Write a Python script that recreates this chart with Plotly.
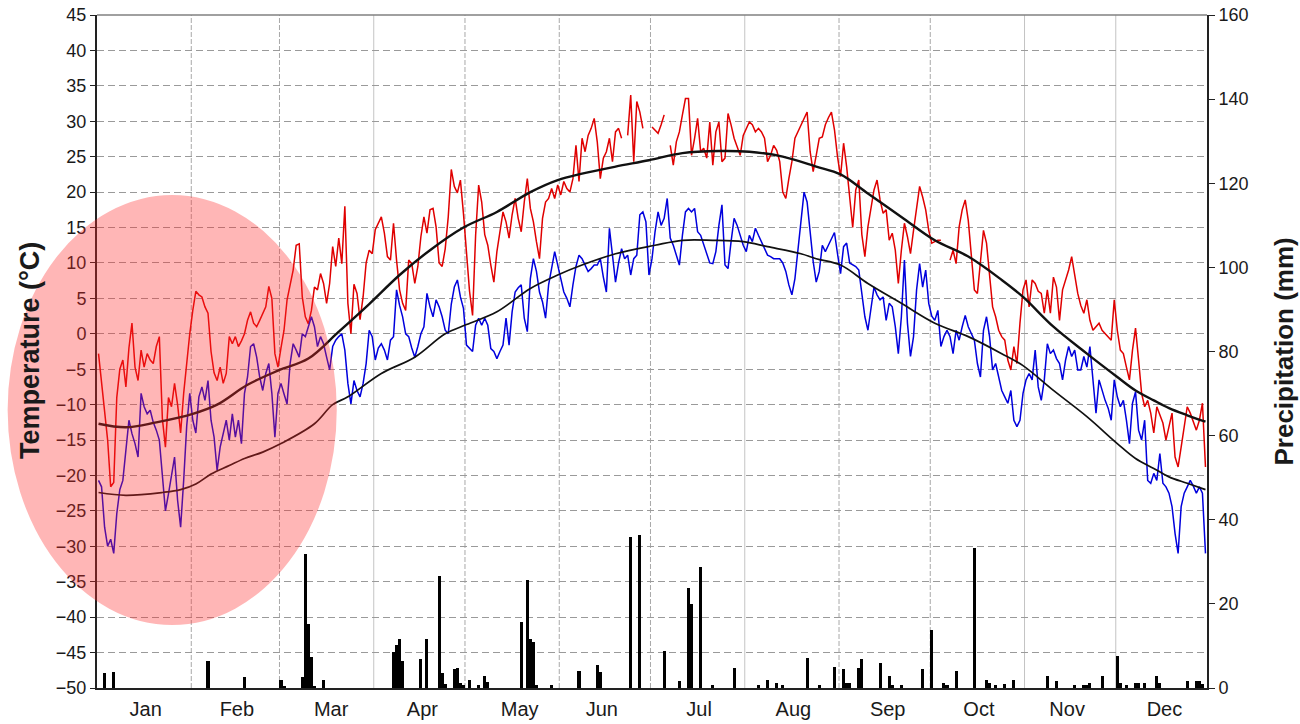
import pandas as pd
import plotly.graph_objects as go

# ---- daily observations (day 1 = 1 Jan) ----
months = ["Jan", "Feb", "Mar", "Apr", "May", "Jun",
          "Jul", "Aug", "Sep", "Oct", "Nov", "Dec"]

# daily maximum temperature, degC (None = missing)
tmax = (
    [-2.8, -6.6, -11, -15, -21.6, -21, -9, -5, -3.7, -7.5, -2, 1.5, -4.7, -6.6, -2.3, -4.7,
     -2.8, -3.7, -4.2, -1.8, -0.4, -12, -16, -9, -10.3, -7, -10, -14, -8.4, -3.7, 0]
    + [3.3, 6, 5.5, 5.2, 3.8, 2.9, -2.5, -5.5, -6.6, -4.7, -7, -5.6, -0.4, -1.4, -0.4, -1.8,
       -1, 0, 1.9, 3.1, 1.5, 1, 1.9, 2.9, 3.8, 6.7, 5, -2.8]
    + [-4.7, -2, 0.5, 4.8, 7, 9, 12.5, 12.7, 5.2, 2.4, 1.4, 3.3, 6.6, 6.2, 8.5, 7.1, 4.3,
       7.1, 12.3, 9.5, 13.5, 9.9, 18, 4.3, 0, 7, 5.7, 2, 5.2, 10, 11.8]
    + [11.3, 14.7, 15.5, 16.5, 14.2, 10.9, 10.4, 15.6, 10.4, 6.2, 4.3, 3.3, 10.4, 9.9, 7.1,
       9.5, 13.7, 16.5, 14.2, 17.5, 17.7, 15.1, 10, 9.5, 12, 16.5, 23.2, 20.8, 19.9, 21.7]
    + [17, 12, 6, 2.6, 13.9, 21, 18.6, 14, 12.5, 9.7, 7.3, 11.6, 14.4, 17.2, 15.8, 13.5,
       16.8, 19.1, 16.3, 14.4, 18.6, 21.9, 17.7, 15.8, 13, 10.6, 16.3, 18.6, 19.1, 20.5, 19.1]
    + [21, 19.6, 21.5, 20.5, 20, 21.9, 26.6, 21.5, 27.6, 25.7, 28, 29, 30.4, 27.1, 21.9,
       24.8, 25.7, 27.6, 24.3, 28.5, 29, 27.6, None, 28, 33.7, 24.3, 32.8, 31.3, 29, None]
    + [None, 29.2, 28.8, 28.3, 29.5, 30.9, None, 26.6, 23.8, 27.1, 28.5, 30.9, 33.2, 33.2,
       25.2, 27.6, 30.4, 25.7, 26.2, 24.8, 29.9, 23.8, 28.5, 29.9, 24.3, 24.8, 31.1, 29.5,
       27.6, 26.4, 25.2]
    + [28, 29, 29.9, 29.5, 28.5, 29, 28.5, 27.6, 24.3, 25.2, 26.6, 25.9, 24.3, 20, 19.1,
       21.9, 24.3, 27.6, 28.5, 29.5, 30.4, 31.3, 25.7, 22.9, 25.2, 27.6, 27.8, 29.5, 30.5,
       31.3, 28.8]
    + [25, 22.2, 26.9, 23.6, 19.3, 15, 20.3, 21.7, 14, 10.9, 15.1, 17.9, 20.3, 21.7, 18.9,
       17, 17.5, 13.2, 14.2, 11.8, 7.1, 11.8, 15.6, 13.7, 11.3, 14.6, 17.9, 20.8, 19.3, 17.5]
    + [14.6, 12.8, 13, 13.2, 13.2, None, None, 10.4, 11.8, 9.9, 15.1, 17.5, 18.9, 16, 10.9,
       6.2, 5.7, 9.9, 14.6, 12.8, 8, 3.8, 2.4, 0.5, -0.4, -0.9, -3.7, -5.1, -1.8, -4.2, 1.5]
    + [6.2, 7.6, 3.8, 7.6, 7.1, 6, 5.7, 2.9, 6.2, 2.9, 8, 6.6, 1.9, 6.2, 7.6, 9, 10.9, 8,
       5.7, 4, 2.9, 4.8, 1.9, 0.5, 1, 1.5, 0.5, 0, -0.5, -0.9]
    + [4.8, 0.5, -2.3, -2.8, -4.7, -6.5, -2.3, 0.8, -3.7, -8.4, -10.3, -9.4, -11.2, -14,
       -10.3, -11.5, -12.6, -15, -13.1, -11.2, -17.4, -18.8, -16, -13.1, -10.3, -11.2,
       -12.5, -13.6, -12.2, -9.8, -18.8]
)

# daily minimum temperature, degC
tmin = (
    [-20.7, -21.6, -27.3, -30, -29, -31, -25.4, -22, -20.7, -16, -12.2, -14.1, -15.5, -17.4,
     -8.4, -10.3, -11.3, -10.8, -12.5, -13.6, -15, -20, -25, -22.6, -19.8, -17.4, -23.5,
     -27.3, -20.7, -13, -8.4]
    + [-12.2, -14, -8.9, -7.5, -9.4, -6.6, -12.2, -14.6, -19.3, -16, -14.1, -12.2, -15,
       -11.3, -14.6, -12.2, -15.5, -8.4, -6.1, -1.8, -1.4, -3.3, -6.1, -8, -5.6, -4.2,
       -8.4, -14.6]
    + [-8.4, -7, -8.5, -9.9, -4.2, -1.4, -2.3, -3.3, 0, -0.4, 1, 2.4, 1, -1.8, -0.4, -1.4,
       -3.3, -5.1, -1.8, -0.9, -0.4, 0, -2.3, -7, -9.9, -6.6, -8, -8.9, -7, -4.2, 0.5]
    + [-0.4, -3.7, -2, -1.4, -2.3, -3.7, -0.9, -0.4, 6.2, 4, 2.4, 0, -0.4, -2, -3.3, -1.8,
       0, 1, 5.7, 3.8, 2.4, 4.8, 3.8, 2.4, 0.5, 0, 4.2, 6.6, 7.6, 5.2]
    + [3.6, -1.6, -2, -2.5, 1.2, 2.2, 1.2, 2.2, 1.2, -2.1, -2.5, -3.5, -2.5, -1.6, 2.2,
       -1.6, 3.1, 5.9, 6.5, 6.9, 2.2, 0.3, 7.8, 10.6, 8.8, 5.9, 4.5, 2.2, 6.9, 9.5, 11.6]
    + [9.7, 7.8, 5.9, 5, 3.8, 6.9, 9.5, 11.1, 10.6, 9.7, 8.8, 9.2, 9.7, 9.7, 10.6, 8, 5.9,
       14.9, 11.1, 7.3, 10, 12, 10.6, 11.1, 8.3, 10.6, 11.1, 16.8, 17.2, 15.8]
    + [8.3, 10.6, 14.4, 17.2, 15.3, 16.3, 19.1, 13.5, 12.5, 11.1, 9.7, 13.9, 17.2, 17.7,
       17.2, 17.7, 14.4, 13.9, 12.5, 11.1, 10, 9.9, 11.6, 15.3, 18.2, 9.7, 9.2, 13, 16.3,
       15.3, 13.9]
    + [12.5, 11.6, 13.9, 13, 14.9, 13.9, 13, 12, 11.1, 10.9, 10.6, 10.6, 10.6, 10, 8.8,
       6.9, 5.5, 7.8, 11.6, 15.3, 20, 18.6, 13.9, 10.2, 7.3, 8.8, 12.5, 11.6, 12.5, 13.5,
       14.3]
    + [11.3, 8.5, 12.3, 12.8, 10, 9.7, 9.5, 9, 5.7, 2.4, 0.5, 3.3, 6.6, 5.5, 4.8, 5.2, 1.9,
       4.3, 3.8, 1, -2.8, 2.4, 10.4, 1.5, -3.2, -0.4, 6.2, 9.9, 6.6, 9]
    + [4.3, 2.5, 1.9, 3.3, -1.8, -0.4, 0.5, -0.4, -2.8, 0.5, -0.9, 1, 2.6, 1, 0, -0.9,
       -4.2, -6.1, 0.5, 2.4, -0.4, -5.1, -4.2, -6.1, -8, -8.9, -9.8, -8, -12.2, -13.1, -12.2]
    + [-8.4, -6.5, -5.6, -6.5, -2.3, -7.5, -9.4, -6.5, -1.4, -2.8, -2.3, -3.5, -4.2, -6.5,
       -3.7, -1.8, -3.2, -2.3, -5.1, -5.1, -3.2, -4.7, -1.8, -6.5, -11.2, -6.5, -8, -9.4,
       -10.5, -12.2]
    + [-6.5, -8.9, -10.3, -9.4, -12.2, -15.5, -9.8, -8.2, -13.6, -15, -12.2, -20.7, -21.1,
       -19.7, -20.7, -16.9, -21.1, -21.6, -22.5, -24.4, -28.2, -31, -24.4, -22.5, -21.6,
       -20.7, -21.5, -22.5, -21.6, -22.5, -31]
)

# long-term normals (day of year, degC)
norm_max_day = [1, 10, 20, 32, 40, 50, 60, 70, 80, 90, 100, 110, 121, 132, 143, 152, 160,
                171, 182, 193, 205, 215, 226, 237, 245, 254, 265, 276, 287, 298, 305, 315,
                326, 336, 342, 348, 353, 359, 365]
norm_max = [-12.7, -13.2, -12.5, -11.3, -10, -7.2, -5.2, -3.5, 0.3, 4.2, 8.3, 11.8, 15,
            17.2, 20, 21.7, 22.6, 23.6, 24.5, 25.5, 25.8, 25.7, 25, 23.6, 22.5, 19.8, 16.5,
            13.2, 10.9, 7.6, 5.2, 1, -2.8, -6.1, -8, -9.4, -10.5, -11.5, -12.4]
norm_min_day = [1, 10, 22, 28, 33, 38, 44, 49, 55, 61, 72, 78, 83, 94, 105, 115, 122, 132,
                143, 152, 160, 171, 184, 193, 203, 213, 221, 232, 237, 245, 254, 265, 276,
                287, 298, 305, 315, 326, 336, 342, 348, 353, 359, 365]
norm_min = [-22.4, -22.8, -22.4, -22, -21.2, -19.8, -18.6, -17.6, -16.7, -15.5, -12.7, -10,
            -8.9, -5.6, -3.3, 0, 1.3, 3.1, 6.4, 8.3, 9.7, 11.3, 12.5, 13.2, 13.2, 13, 12.3,
            11.3, 10.6, 9.7, 7.1, 4.3, 1.5, -0.4, -2.8, -4.5, -8, -11.7, -15.5, -17.6, -19,
            -20.2, -21.1, -22]

# daily precipitation, mm
rain_day = [3, 6, 37, 49, 61, 62, 68, 69, 70, 71, 72, 75, 98, 99, 100, 101, 107, 109, 113,
            114, 115, 118, 119, 120, 121, 123, 126, 128, 129, 140, 142, 143, 144, 145, 150,
            159, 165, 166, 176, 179, 187, 192, 195, 196, 199, 203, 210, 218, 221, 224, 226,
            234, 238, 243, 246, 247, 248, 251, 252, 258, 261, 262, 265, 272, 275, 279, 280,
            283, 289, 293, 294, 296, 299, 302, 313, 316, 322, 325, 326, 327, 331, 336, 337,
            339, 342, 343, 345, 349, 350, 359, 362, 363, 364]
rain_mm = [3.6, 3.8, 6.4, 2.6, 1.9, 0.5, 2.6, 31.9, 15.2, 7.4, 0.5, 1.9, 8.6, 10.2, 11.6,
           6.5, 6.9, 11.6, 26.6, 3.6, 1, 4.4, 4.7, 1.3, 0.6, 2, 0.6, 2.8, 1.5, 15.8, 25.7,
           11.6, 11, 0.8, 0.6, 4, 5.5, 3.7, 36, 36.4, 8.9, 1.7, 23.8, 20, 28.7, 0.6, 4.7, 0.6,
           2, 1.3, 0.6, 7.1, 0.6, 5.1, 4.4, 1.3, 1.3, 4.8, 7, 5.9, 2.8, 0.6, 0.6, 4.4, 13.9,
           1.3, 0.8, 4, 33.4, 2, 1.1, 0.6, 1, 2, 2.8, 1.6, 0.8, 0.6, 0.8, 1.1, 2.8, 7.7, 1.1,
           0.6, 1.1, 1.1, 1.1, 2.8, 1.1, 1.6, 1.6, 1.6, 1]

# ---- helpers ----
YEAR = 2008
start = pd.Timestamp(f"{YEAR}-01-01")


def to_dates(days):
    # each daily value sits at noon of its day
    return [start + pd.Timedelta(hours=24 * (d - 1) + 12) for d in days]


days = list(range(1, len(tmax) + 1))
FONT = "Liberation Sans, Arial, sans-serif"

fig = go.Figure()

fig.add_trace(go.Bar(
    x=to_dates(rain_day), y=rain_mm, yaxis="y2",
    width=1.0 * 86400000, marker=dict(color="black", line=dict(width=0)),
    name="Precipitation"))

fig.add_trace(go.Scatter(
    x=to_dates(days), y=tmax, mode="lines", connectgaps=False,
    line=dict(color="#e00000", width=1.5), name="Tmax"))
fig.add_trace(go.Scatter(
    x=to_dates(days), y=tmin, mode="lines",
    line=dict(color="#0000dd", width=1.5), name="Tmin"))

fig.add_trace(go.Scatter(
    x=to_dates(norm_max_day), y=norm_max, mode="lines",
    line=dict(color="#111111", width=2.4, shape="spline", smoothing=1.0), name="Normal max"))
fig.add_trace(go.Scatter(
    x=to_dates(norm_min_day), y=norm_min, mode="lines",
    line=dict(color="#111111", width=1.7, shape="spline", smoothing=1.0), name="Normal min"))

# month boundaries: some solid, some dashed
month_starts = [pd.Timestamp(f"{YEAR}-{m:02d}-01") for m in range(2, 13)]
solid_months = {4, 8, 11, 12}
shapes = []
for ms in month_starts:
    solid = ms.month in solid_months
    shapes.append(dict(
        type="line", xref="x", yref="paper", x0=ms, x1=ms, y0=0, y1=1, layer="below",
        line=dict(color="#c4c4c4" if solid else "#a8a8a8", width=1,
                  dash="solid" if solid else "5px,2px")))

# top frame of the plot area
shapes.append(dict(type="line", xref="paper", yref="paper", x0=0, x1=1, y0=1, y1=1,
                   line=dict(color="#808080", width=1.5)))

# highlighted winter period
shapes.append(dict(type="circle", xref="paper", yref="paper",
                   x0=-0.0805, x1=0.2160, y0=0.0936, y1=0.7325, layer="above",
                   fillcolor="rgba(255,40,40,0.34)", line=dict(width=0)))

label_day = [17, 16, 18, 17, 19, 15, 17, 17, 17, 17, 15, 17]
tickvals = [pd.Timestamp(f"{YEAR}-{i + 1:02d}-{d:02d}") for i, d in enumerate(label_day)]

fig.update_layout(
    width=1300, height=724,
    margin=dict(l=97, r=93, t=15, b=36, autoexpand=False),
    paper_bgcolor="white", plot_bgcolor="white",
    showlegend=False, bargap=0,
    font=dict(family=FONT, color="#1a1a1a"),
    shapes=shapes,
    xaxis=dict(
        type="date", range=[f"{YEAR}-01-01", f"{YEAR}-12-31"], automargin=False,
        tickmode="array", tickvals=tickvals, ticktext=months,
        showgrid=False, zeroline=False,
        showline=True, linecolor="#222222", linewidth=2,
        ticks="outside", ticklen=2, tickcolor="rgba(0,0,0,0)",
        tickfont=dict(size=20, family=FONT, color="#1a1a1a")),
    yaxis=dict(
        range=[-50, 45], tickmode="array", tickvals=list(range(-50, 46, 5)), automargin=False,
        showgrid=True, gridcolor="#9a9a9a", gridwidth=1, griddash="7px,4px",
        zeroline=False, showline=True, linecolor="#222222", linewidth=2,
        ticks="outside", ticklen=5, tickcolor="#222222",
        tickfont=dict(size=18, family=FONT, color="#1a1a1a")),
    yaxis2=dict(
        range=[0, 160], overlaying="y", side="right", automargin=False,
        tickmode="array", tickvals=list(range(0, 161, 20)),
        showgrid=False, zeroline=False,
        showline=True, linecolor="#222222", linewidth=2,
        ticks="outside", ticklen=6, tickcolor="#222222",
        tickfont=dict(size=18, family=FONT, color="#1a1a1a")),
    annotations=[
        dict(text="<b>Temperature (°C)</b>", xref="paper", yref="paper",
             x=-0.0604, y=0.502, xanchor="center", yanchor="middle", textangle=-90,
             showarrow=False, font=dict(size=27, family=FONT, color="#1a1a1a")),
        dict(text="<b>Precipitation (mm)</b>", xref="paper", yref="paper",
             x=1.0685, y=0.500, xanchor="center", yanchor="middle", textangle=-90,
             showarrow=False, font=dict(size=26, family=FONT, color="#1a1a1a")),
    ],
)

fig.write_html("out.html")
